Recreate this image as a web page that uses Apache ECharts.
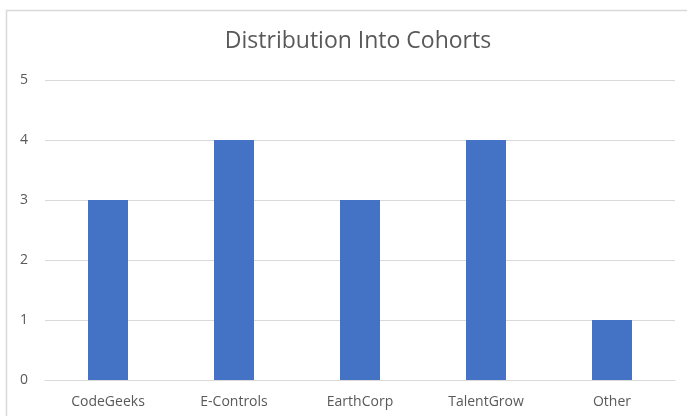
<!DOCTYPE html>
<html><head><meta charset="utf-8">
<script src="https://cdn.jsdelivr.net/npm/echarts@6/dist/echarts.min.js"></script>
<style>html,body{margin:0;padding:0;background:#fff}#c{width:687px;height:416px}</style>
</head><body><div id="c"></div>
<script>
const categories = ['CodeGeeks', 'E-Controls', 'EarthCorp', 'TalentGrow', 'Other'];
const values = [3, 4, 3, 4, 1];
const yTicks = [0, 1, 2, 3, 4, 5];
const titleText = 'Distribution Into Cohorts';

const chart = echarts.init(document.getElementById('c'), null, {renderer: 'canvas'});
chart.setOption({
  animation: false,
  backgroundColor: '#fff',
  graphic: [{
    type: 'rect', shape: {x: 6.5, y: 10.5, width: 720, height: 440},
    style: {fill: 'none', stroke: '#d9d9d9', lineWidth: 1.5}, silent: true, z: -1
  }],
  title: {
    text: titleText, left: 353, top: 25, textAlign: 'center',
    textStyle: {fontFamily: 'Open Sans', fontWeight: 'normal', fontSize: 23, color: '#595959'}
  },
  grid: {left: 45, right: 12, top: 80, bottom: 36},
  xAxis: {
    type: 'category', data: categories,
    axisLine: {show: true, lineStyle: {color: '#d9d9d9'}},
    axisTick: {show: false},
    axisLabel: {fontFamily: 'Open Sans', fontSize: 14, color: '#595959', margin: 15}
  },
  yAxis: {
    type: 'value', min: yTicks[0], max: yTicks[yTicks.length - 1], interval: 1,
    axisLine: {show: false}, axisTick: {show: false},
    splitLine: {lineStyle: {color: '#d9d9d9', width: 1}},
    axisLabel: {fontFamily: 'Open Sans', fontSize: 14, color: '#595959', margin: 17}
  },
  series: [{
    type: 'bar', data: values, barWidth: 40,
    itemStyle: {color: '#4472c4'}
  }]
});
</script></body></html>
